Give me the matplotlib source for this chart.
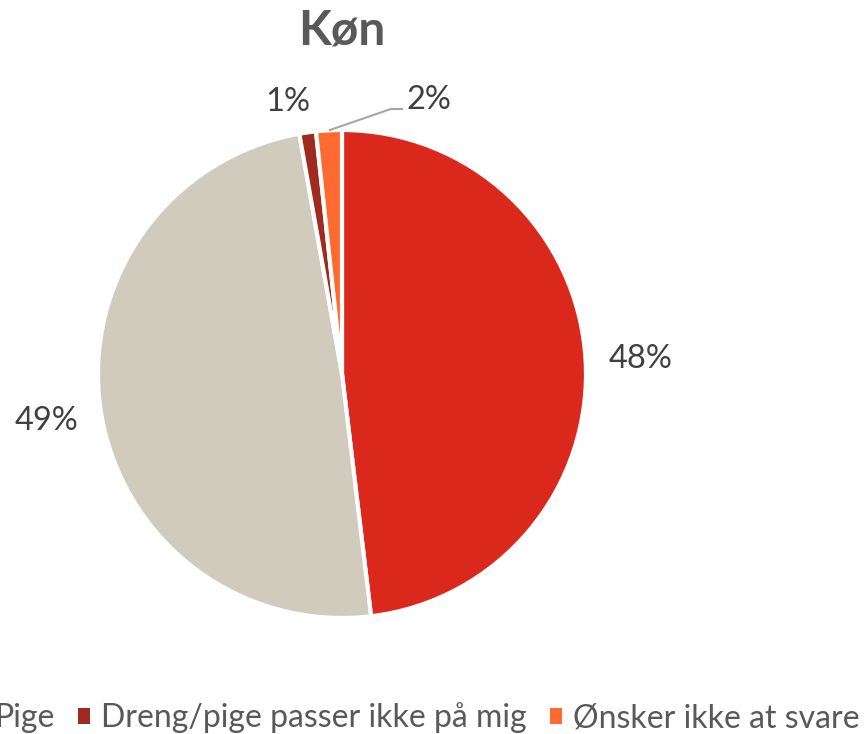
import numpy as np
import matplotlib

matplotlib.use("Agg")
import matplotlib.pyplot as plt
from matplotlib.patches import Patch

plt.rcParams["font.family"] = ["Lato", "DejaVu Sans"]

labels = ["Dreng", "Pige", "Dreng/pige passer ikke på mig", "Ønsker ikke at svare"]
values = [48.1, 49.1, 1.1, 1.7]
pct_labels = ["48%", "49%", "1%", "2%"]
colors = ["#DA291C", "#D0CBBD", "#9E2A20", "#FF6A30"]

fig = plt.figure(figsize=(8.65, 7.34), dpi=100)
# axes sized so the pie sits at centre (342, 374) px, radius 244 px
W, H = 865, 734
r = 244
cx, cy = 342, 374
ax = fig.add_axes([(cx - r) / W, (H - cy - r) / H, 2 * r / W, 2 * r / H])

wedges, _ = ax.pie(
    values,
    colors=colors,
    startangle=90,
    counterclock=False,
    wedgeprops=dict(edgecolor="white", linewidth=3),
)
ax.set_xlim(-1, 1)
ax.set_ylim(-1, 1)
ax.set_aspect("equal")

# data labels
txt = dict(fontsize=23.5, color="#404040", va="center_baseline")
for i, (w, lab) in enumerate(zip(wedges, pct_labels)):
    ang = np.deg2rad((w.theta1 + w.theta2) / 2)
    x, y = np.cos(ang), np.sin(ang)
    if i < 2:
        ax.text(x * 1.225, y * 1.225, lab, ha="center", **txt)
    elif i == 2:
        ax.annotate(lab, xy=(x * 1.14, y * 1.14), xytext=(-11, 0),
                    textcoords="offset points", ha="center",
                    annotation_clip=False, **txt)
    else:
        # leader line for the small slice
        ax.plot([x, 0.20, 0.25], [y, 1.086, 1.086], color="#A6A6A6",
                lw=1.5, clip_on=False, solid_capstyle="butt")
        ax.text(0.266, 1.135, lab, ha="left", **txt)

fig.text(cx / W, 1 - 45 / H, "Køn", ha="center", va="baseline",
         fontsize=34.5, fontweight="bold", color="#595959")

handles = [Patch(facecolor=c, label=l) for c, l in zip(colors, labels)]
fig.legend(
    handles=handles, loc="center right", bbox_to_anchor=(0.9976, 1 - 718 / H),
    ncol=4, frameon=False, fontsize=23, handlelength=0.38, handleheight=0.38,
    handletextpad=0.35, columnspacing=0.72, borderpad=0.1, borderaxespad=0,
    labelcolor="#595959",
)

fig.savefig("out.png", dpi=100, facecolor="white")
